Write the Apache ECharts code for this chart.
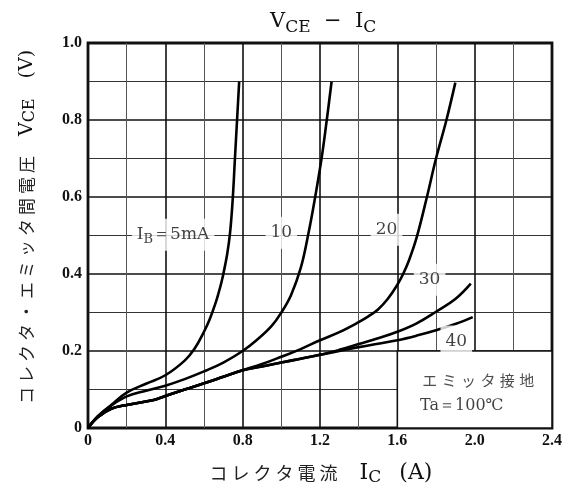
<!DOCTYPE html>
<html><head><meta charset="utf-8">
<script src="https://cdn.jsdelivr.net/npm/echarts@6/dist/echarts.min.js"></script>
<style>html,body{margin:0;padding:0;background:#fff}#c{width:566px;height:492px}</style>
</head><body><div id="c"></div>
<script>
// ---- data ----
const xTicks = [0, 0.4, 0.8, 1.2, 1.6, 2.0, 2.4];
const yTicks = [0, 0.2, 0.4, 0.6, 0.8, 1.0];
const curveIB5 = [[0,0],[0.05,0.03],[0.12,0.06],[0.2,0.092],[0.3,0.115],[0.4,0.137],[0.5,0.175],[0.55,0.205],[0.6,0.25],[0.63,0.283],[0.66,0.325],[0.675,0.35],[0.69,0.378],[0.7,0.4],[0.72,0.452],[0.735,0.508],[0.748,0.59],[0.76,0.7],[0.771,0.8],[0.782,0.9]];
const curveIB10 = [[0,0],[0.05,0.03],[0.12,0.058],[0.2,0.082],[0.3,0.097],[0.4,0.11],[0.5,0.127],[0.6,0.147],[0.7,0.17],[0.8,0.2],[0.87,0.227],[0.95,0.265],[1.0,0.3],[1.05,0.345],[1.1,0.415],[1.14,0.505],[1.175,0.6],[1.208,0.7],[1.235,0.8],[1.26,0.9]];
const curveIB20 = [[0,0],[0.05,0.028],[0.12,0.05],[0.2,0.06],[0.34,0.073],[0.4,0.083],[0.5,0.1],[0.6,0.116],[0.7,0.133],[0.8,0.15],[0.9,0.166],[1.0,0.185],[1.1,0.205],[1.2,0.228],[1.3,0.249],[1.4,0.275],[1.45,0.29],[1.5,0.308],[1.55,0.335],[1.6,0.372],[1.63,0.4],[1.66,0.435],[1.7,0.495],[1.753,0.6],[1.8,0.7],[1.854,0.8],[1.9,0.897]];
const curveIB30 = [[0,0],[0.05,0.028],[0.12,0.05],[0.2,0.06],[0.34,0.073],[0.4,0.083],[0.5,0.1],[0.6,0.116],[0.7,0.133],[0.8,0.15],[0.9,0.16],[1.0,0.17],[1.1,0.18],[1.2,0.19],[1.3,0.203],[1.4,0.218],[1.5,0.233],[1.6,0.25],[1.7,0.272],[1.8,0.302],[1.9,0.335],[1.98,0.375]];
const curveIB40 = [[0,0],[0.05,0.028],[0.12,0.05],[0.2,0.06],[0.34,0.073],[0.4,0.083],[0.5,0.1],[0.6,0.116],[0.7,0.133],[0.8,0.15],[0.9,0.16],[1.0,0.17],[1.1,0.18],[1.2,0.19],[1.3,0.2],[1.4,0.21],[1.5,0.219],[1.6,0.228],[1.7,0.24],[1.8,0.254],[1.9,0.27],[1.99,0.288]];
const curveLabels = ['{i|I}{s|B}{i|＝5mA}', '10', '20', '30', '40'];
const labelAnchors = [[0.44,0.502],[1.0,0.507],[1.544,0.515],[1.767,0.385],[1.905,0.225]];
const noteLines = ['エミッタ接地', 'Ta＝100℃'];
const noteAnchors = [[1.715,0.124],[1.715,0.057]];
const noteBox = [[1.6,0],[2.4,0.2]];
const xName = 'コレクタ電流';
const yName = 'コレクタ・エミッタ間電圧';

const serif = 'DejaVu Serif';
const tickFont = 'Liberation Serif';
const jp = 'Noto Sans CJK JP';
const spaced = (s, tok) => s.split('').map(ch => '{' + tok + '|' + ch + '}').join('');

const richText = {
  i: {fontFamily: serif, fontSize: 17, color: '#111', lineHeight: 22},
  s: {fontFamily: serif, fontSize: 13, color: '#111', lineHeight: 12, padding: [10,0,0,0]}
};

function curve(data){
  return {type:'line', data, smooth:0.4, showSymbol:false, silent:true,
    lineStyle:{color:'#000', width:2.6}, z:3};
}

const chart = echarts.init(document.getElementById('c'), null, {renderer:'canvas'});
chart.setOption({
  backgroundColor:'#fff',
  animation:false,
  title:{
    text:'{i|V}{s|CE}{i|  −  I}{s|C}',
    left:265, top:3,
    textStyle:{fontWeight:'normal', rich:{
      i:{fontFamily:serif, fontSize:21, fontWeight:'normal', color:'#111', lineHeight:28},
      s:{fontFamily:serif, fontSize:17, fontWeight:'normal', color:'#111', lineHeight:16, padding:[11,0,0,0]}
    }}
  },
  grid:{left:88, right:14, top:43, bottom:64, show:true, borderColor:'#111', borderWidth:2.8, containLabel:false},
  xAxis:{
    type:'value', min:0, max:2.4, interval:0.4,
    axisLine:{show:false}, axisTick:{show:false},
    axisLabel:{fontFamily:tickFont, fontWeight:'bold', fontSize:16, color:'#111', margin:5,
      formatter:v => v===0 ? '0' : v.toFixed(1)},
    splitLine:{show:true, lineStyle:{color:'#111', width:1.6}},
    minorTick:{show:false, splitNumber:2},
    minorSplitLine:{show:true, lineStyle:{color:'#555', width:1}},
    name: spaced(xName,'c') + '{g|}{I|I}{S|C}{h|}{I|(A)}',
    nameLocation:'middle', nameGap:33,
    nameTextStyle:{rich:{
      c:{fontFamily:jp, fontSize:18, color:'#222', lineHeight:24, padding:[0,2,0,2]},
      g:{width:20},
      h:{width:18},
      I:{fontFamily:serif, fontSize:22, color:'#111', lineHeight:24},
      S:{fontFamily:serif, fontSize:17, color:'#111', lineHeight:14, padding:[10,0,0,0]}
    }}
  },
  yAxis:{
    type:'value', min:0, max:1.0, interval:0.2,
    axisLine:{show:false}, axisTick:{show:false},
    axisLabel:{fontFamily:tickFont, fontWeight:'bold', fontSize:16, color:'#111', margin:6,
      formatter:v => v===0 ? '0' : v.toFixed(1)},
    splitLine:{show:true, lineStyle:{color:'#111', width:1.6}},
    minorTick:{show:false, splitNumber:2},
    minorSplitLine:{show:true, lineStyle:{color:'#333', width:1}},
    name: spaced(yName,'c') + '{g|}{I|V}{S|CE}{h|}{I|(V)}',
    nameLocation:'middle', nameRotate:90, nameGap:50,
    nameTextStyle:{padding:[0,0,0,15], rich:{
      c:{fontFamily:jp, fontSize:17, color:'#222', lineHeight:22, padding:[0,2,0,2]},
      g:{width:18},
      h:{width:20},
      I:{fontFamily:serif, fontSize:19, color:'#111', lineHeight:22},
      S:{fontFamily:serif, fontSize:16, color:'#111', lineHeight:14, padding:[6,0,0,0]}
    }}
  },
  series:[
    {type:'line', data:[], silent:true,
      markArea:{silent:true, itemStyle:{color:'#fff', borderColor:'#111', borderWidth:1.6},
        data:[[{coord:noteBox[0]},{coord:noteBox[1]}]]}, z:2},
    curve(curveIB5), curve(curveIB10), curve(curveIB20), curve(curveIB30), curve(curveIB40),
    {type:'scatter', silent:true, symbolSize:1, itemStyle:{color:'rgba(0,0,0,0)'}, z:5,
      data: labelAnchors.map((p,k)=>[p[0],p[1],curveLabels[k]]),
      label:{show:true, position:'inside', formatter:p=>p.data[2].indexOf('{')>=0 ? p.data[2] : '{i|'+p.data[2]+'}',
        backgroundColor:'#fff', padding:[5,5,5,5], rich:richText}},
    {type:'scatter', silent:true, symbolSize:1, itemStyle:{color:'rgba(0,0,0,0)'}, z:5,
      data: noteAnchors.map((p,k)=>[p[0],p[1],noteLines[k]]),
      label:{show:true, position:'right', distance:0,
        formatter:p=> p.dataIndex===0 ? spaced(p.data[2],'j') : '{i|'+p.data[2]+'}',
        rich:{
          i:{fontFamily:serif, fontSize:16, color:'#111'},
          j:{fontFamily:jp, fontSize:15, color:'#222', padding:[0,2.2,0,2.2]}
        }}}
  ]
});
</script></body></html>
